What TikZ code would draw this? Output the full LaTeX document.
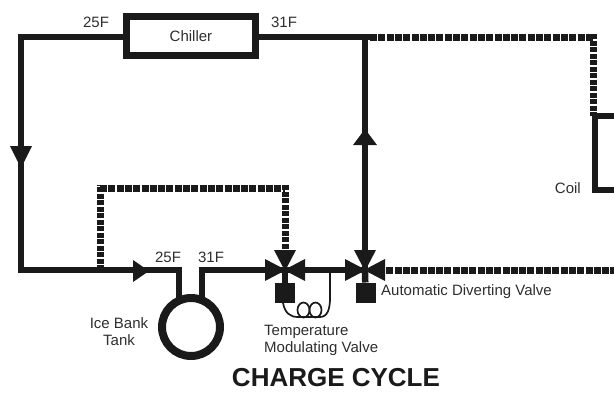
\documentclass[tikz,border=0pt]{standalone}
\usepackage{fontspec}
\setmainfont{Liberation Sans}
\usepackage{xcolor}
\usetikzlibrary{arrows.meta,positioning,calc}
\definecolor{PipeBlack}{HTML}{1A1A1A}
\definecolor{LabelGrey}{HTML}{2E2E2E}
\tikzset{
    every node/.style={font=\fontsize{15}{17}\selectfont, text=LabelGrey},
    pipe/.style={
        draw=PipeBlack, line width=6.5pt, miter limit=10
    },
    dashrun/.style={
        draw=PipeBlack, line width=7pt, dash pattern=on 7pt off 1.3pt
    },
    dashrise/.style={
        draw=PipeBlack, line width=7pt, dash pattern=on 5pt off 1.5pt
    },
    bulbline/.style={
        draw=PipeBlack, line width=1.7pt
    },
    chillerbox/.style={
        draw=PipeBlack, line width=7pt, minimum width=129pt, minimum height=39pt,
        inner sep=0pt, outer sep=0pt, sharp corners
    },
    tankring/.style={
        circle, draw=PipeBlack, line width=8pt, minimum size=58pt,
        inner sep=0pt, outer sep=0pt
    },
    actuator/.style={
        fill=PipeBlack, minimum width=20pt, minimum height=20pt, inner sep=0pt, outer sep=0pt
    },
    flowtip/.style={
        fill=PipeBlack
    },
}
\begin{document}
\begin{tikzpicture}[x=1pt,y=-1pt]
    \useasboundingbox (0,0) rectangle (614,392);

    % Junctions along the loop
    \coordinate (topleft) at (21,37);
    \coordinate (lowleft) at (21,270);
    \coordinate (topjoin) at (365,37);
    \coordinate (bypass) at (100,270);
    \coordinate (bypasstop) at (100,188);
    \coordinate (valveA) at (285,270);
    \coordinate (valveB) at (365,270);
    \coordinate (stubL) at (179,270);
    \coordinate (stubR) at (202,270);
    \coordinate (dashcorner) at (593,37);
    \coordinate (coilTop) at (595,116);
    \coordinate (coilBot) at (595,190);
    \coordinate (coilTopEnd) at (614,116);
    \coordinate (coilBotEnd) at (614,190);
    \coordinate (exitB) at (614,270);

    % Chiller and tank
    \node[chillerbox] (chiller) at (191,36) {};
    \node (chillerlabel) at (chiller.center) {Chiller};
    \node[tankring] (tank) at (191,327) {};

    % Actuators under the valves
    \node[actuator] (actA) at (285,293) {};
    \node[actuator] (actB) at (365.5,292.5) {};
    \draw[pipe] (valveA) -- (actA);
    \draw[pipe] (valveB) -- (actB);

    % Solid pipe runs
    \draw[pipe] (chiller.west |- topleft) -- (topleft) -- (lowleft) -- (stubL) -- (stubL |- tank.north);
    \draw[pipe] (stubR |- tank.north) -- (stubR) -- (valveA) -- (valveB);
    \draw[pipe] (chiller.east |- topjoin) -- ($(topjoin)+(5,0)$);
    \draw[pipe] (topjoin) -- (valveB);
    \draw[pipe] (coilTopEnd) -- (coilTop) -- (coilBot) -- (coilBotEnd);

    % Dashed pipe runs
    \draw[dashrun] ($(topjoin)+(5,0)$) -- (dashcorner);
    \draw[dashrise] ($(dashcorner)+(0,-3)$) -- ($(coilTop)+(-2,0)$);
    \draw[dashrun] ($(valveB)+(13,0)$) -- (exitB);
    \draw[dashrise] (bypass) -- ($(bypasstop)+(0,-3)$);
    \draw[dashrun] (bypasstop) -- (valveA |- bypasstop);
    \draw[dashrise] ($(valveA |- bypasstop)+(0,-3)$) -- ($(valveA)+(0,-18)$);

    % Valve triangles
    \foreach \valve in {valveA,valveB} {
        \foreach \ang in {0,-90,180} {
            \fill[flowtip, shift={(\valve)}, rotate=\ang] (-20,-11) -- (-20,11) -- (1,0) -- cycle;
        }
    }

    % Flow arrows
    \fill[flowtip] (10,146) -- (32,146) -- (21,168) -- cycle;
    \fill[flowtip] (353,145) -- (377,145) -- (365,129) -- cycle;
    \fill[flowtip] (133,260) -- (133,282) -- (149,271) -- cycle;

    % Sensing bulb line
    \draw[bulbline] (283,303) .. controls (285,313) and (290,317) .. (298,317) -- (320,317)
        .. controls (328,317) and (330,308) .. (330,298) -- (330,270);
    \draw[bulbline] (303.5,310) ellipse (6 and 7.5);
    \draw[bulbline] (315.5,310) ellipse (6 and 7.5);

    % Labels
    \node (tempA) at (96,22) {25F};
    \node (tempB) at (284,22) {31F};
    \node (tempC) at (168,257) {25F};
    \node (tempD) at (211,257) {31F};
    \node[align=center] (tanklabel) at (119,331.5) {Ice Bank\\Tank};
    \node[align=left, right, inner sep=0pt] (modlabel) at (264,340.5) {Temperature\\Modulating Valve};
    \node[right, inner sep=0pt] (divlabel) at (381,292) {Automatic Diverting Valve};
    \node[left, inner sep=0pt] (coillabel) at (581,188) {Coil};
    \node[font=\fontsize{26}{30}\selectfont\bfseries, text=PipeBlack, inner sep=0pt] (title) at (336,377.5) {CHARGE CYCLE};
\end{tikzpicture}
\end{document}
